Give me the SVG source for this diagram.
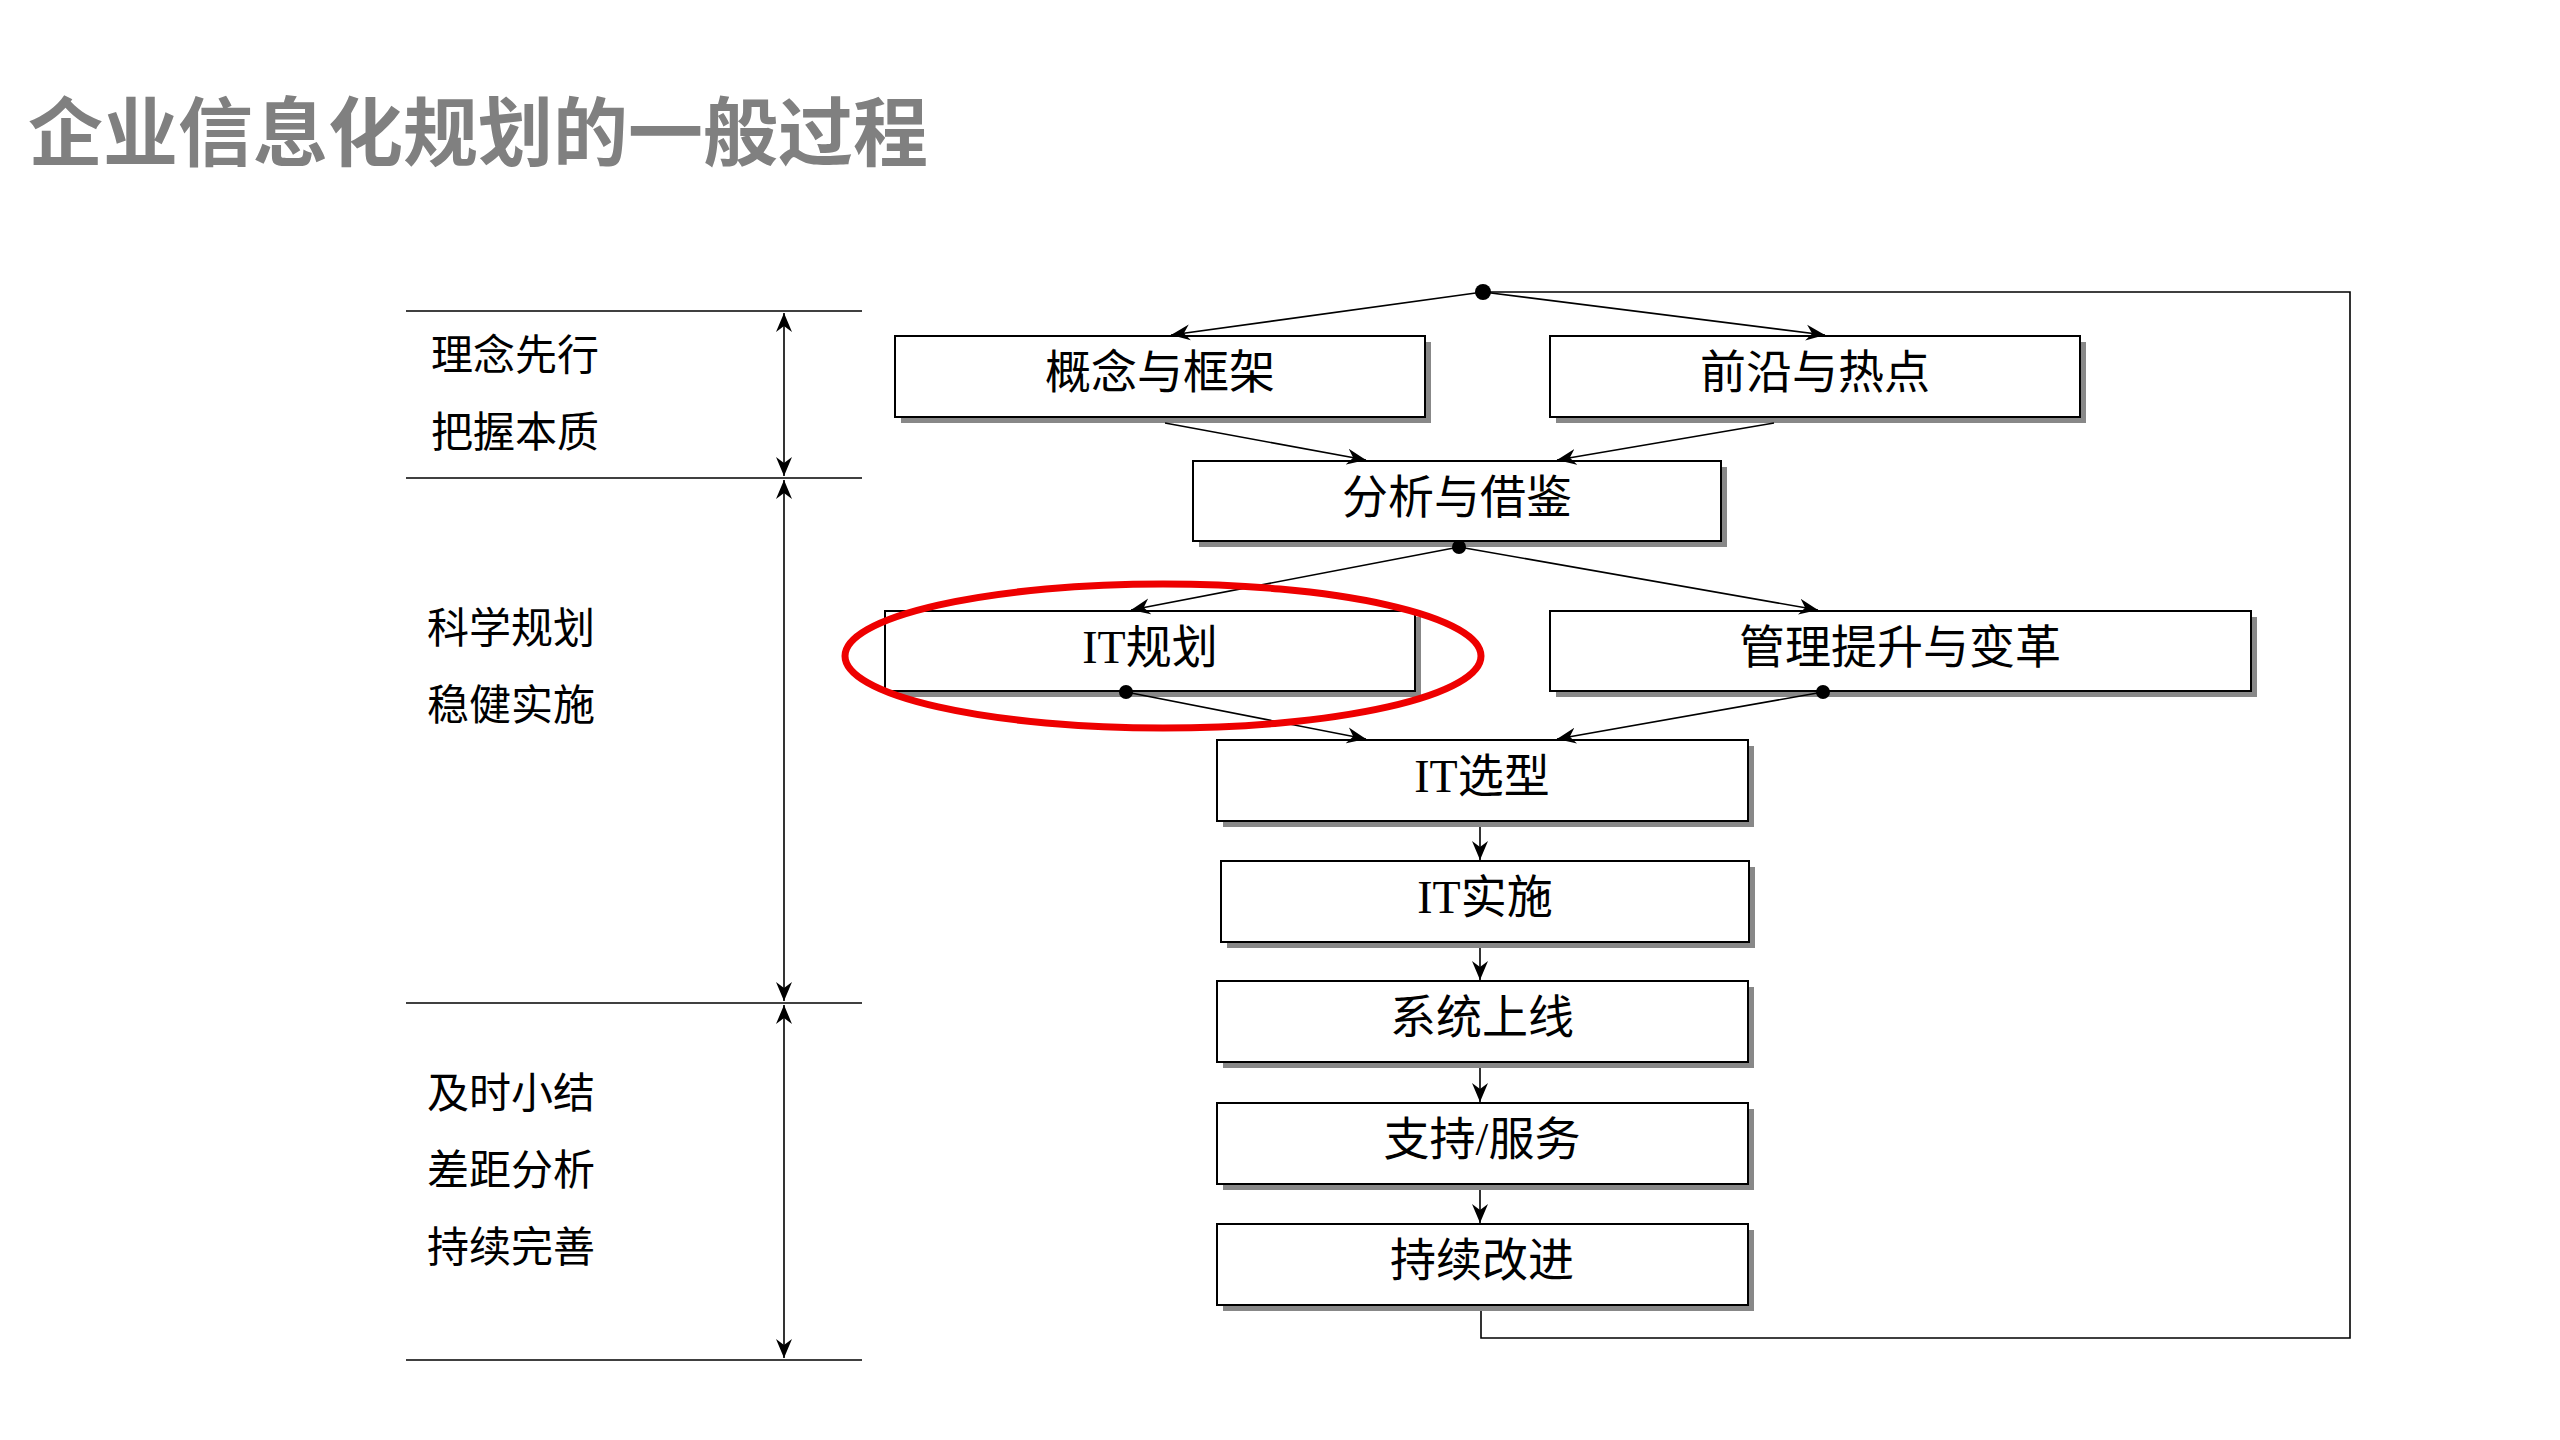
<svg xmlns="http://www.w3.org/2000/svg" width="2560" height="1440" viewBox="0 0 2560 1440">
<style>
.bx{fill:#fff;stroke:#000;stroke-width:2}
.sh{fill:#888}
.nt{font-family:"Liberation Serif","Noto Sans CJK SC",serif;font-size:46px;text-anchor:middle;fill:#000}
.lt{font-family:"Liberation Sans","Noto Sans CJK SC",sans-serif;font-size:42px;fill:#000}
.ln{stroke:#000;stroke-width:1.6;fill:none}
</style>
<defs>
<marker id="ar" viewBox="0 0 20 20" refX="19" refY="10" markerWidth="20" markerHeight="20" markerUnits="userSpaceOnUse" orient="auto-start-reverse">
<path d="M0,2 L19,10 L0,18 L6,10 Z" fill="#000"/>
</marker>
</defs>
<rect width="2560" height="1440" fill="#fff"/>
<text x="28" y="160" font-family="'Noto Sans CJK SC',sans-serif" font-weight="bold" font-size="75" fill="#808080">企业信息化规划的一般过程</text>

<g id="left">
<line class="ln" x1="406" y1="311" x2="862" y2="311"/>
<line class="ln" x1="406" y1="478" x2="862" y2="478"/>
<line class="ln" x1="406" y1="1003" x2="862" y2="1003"/>
<line class="ln" x1="406" y1="1360" x2="862" y2="1360"/>
<line class="ln" x1="784" y1="313" x2="784" y2="476" marker-start="url(#ar)" marker-end="url(#ar)"/>
<line class="ln" x1="784" y1="480" x2="784" y2="1001" marker-start="url(#ar)" marker-end="url(#ar)"/>
<line class="ln" x1="784" y1="1005" x2="784" y2="1358" marker-start="url(#ar)" marker-end="url(#ar)"/>
<text class="lt" x="431" y="370">理念先行</text>
<text class="lt" x="431" y="447">把握本质</text>
<text class="lt" x="427" y="643">科学规划</text>
<text class="lt" x="427" y="720">稳健实施</text>
<text class="lt" x="427" y="1108">及时小结</text>
<text class="lt" x="427" y="1185">差距分析</text>
<text class="lt" x="427" y="1262">持续完善</text>
</g>

<g id="n1"><rect class="sh" x="901" y="342" width="530" height="81"/><rect class="bx" x="895" y="336" width="530" height="81"/><text class="nt" x="1160" y="388">概念与框架</text></g>
<g id="n2"><rect class="sh" x="1556" y="342" width="530" height="81"/><rect class="bx" x="1550" y="336" width="530" height="81"/><text class="nt" x="1815" y="388">前沿与热点</text></g>
<g id="n3"><rect class="sh" x="1199" y="467" width="528" height="80"/><rect class="bx" x="1193" y="461" width="528" height="80"/><text class="nt" x="1457" y="513">分析与借鉴</text></g>
<g id="n4"><rect class="sh" x="891" y="617" width="530" height="80"/><rect class="bx" x="885" y="611" width="530" height="80"/><text class="nt" x="1150" y="663">IT规划</text></g>
<g id="n5"><rect class="sh" x="1556" y="617" width="701" height="80"/><rect class="bx" x="1550" y="611" width="701" height="80"/><text class="nt" x="1900" y="663">管理提升与变革</text></g>
<g id="n6"><rect class="sh" x="1223" y="746" width="531" height="81"/><rect class="bx" x="1217" y="740" width="531" height="81"/><text class="nt" x="1482" y="792">IT选型</text></g>
<g id="n7"><rect class="sh" x="1227" y="867" width="528" height="81"/><rect class="bx" x="1221" y="861" width="528" height="81"/><text class="nt" x="1485" y="913">IT实施</text></g>
<g id="n8"><rect class="sh" x="1223" y="987" width="531" height="81"/><rect class="bx" x="1217" y="981" width="531" height="81"/><text class="nt" x="1482" y="1033">系统上线</text></g>
<g id="n9"><rect class="sh" x="1223" y="1109" width="531" height="81"/><rect class="bx" x="1217" y="1103" width="531" height="81"/><text class="nt" x="1482" y="1155">支持/服务</text></g>
<g id="n10"><rect class="sh" x="1223" y="1230" width="531" height="81"/><rect class="bx" x="1217" y="1224" width="531" height="81"/><text class="nt" x="1482" y="1276">持续改进</text></g>

<g id="connectors">
<circle cx="1483" cy="292" r="8" fill="#000"/>
<line class="ln" x1="1483" y1="292" x2="1171" y2="335" marker-end="url(#ar)"/>
<line class="ln" x1="1483" y1="292" x2="1825" y2="335" marker-end="url(#ar)"/>
<line class="ln" x1="1165" y1="423" x2="1366" y2="460" marker-end="url(#ar)"/>
<line class="ln" x1="1774" y1="423" x2="1557" y2="460" marker-end="url(#ar)"/>
<circle cx="1459" cy="547" r="7" fill="#000"/>
<line class="ln" x1="1459" y1="547" x2="1131" y2="610" marker-end="url(#ar)"/>
<line class="ln" x1="1459" y1="547" x2="1818" y2="610" marker-end="url(#ar)"/>
<circle cx="1126" cy="692" r="7" fill="#000"/>
<circle cx="1823" cy="692" r="7" fill="#000"/>
<line class="ln" x1="1126" y1="692" x2="1366" y2="739" marker-end="url(#ar)"/>
<line class="ln" x1="1823" y1="692" x2="1557" y2="739" marker-end="url(#ar)"/>
<line class="ln" x1="1480" y1="827" x2="1480" y2="860" marker-end="url(#ar)"/>
<line class="ln" x1="1480" y1="948" x2="1480" y2="980" marker-end="url(#ar)"/>
<line class="ln" x1="1480" y1="1068" x2="1480" y2="1102" marker-end="url(#ar)"/>
<line class="ln" x1="1480" y1="1190" x2="1480" y2="1223" marker-end="url(#ar)"/>
<polyline class="ln" stroke-width="1.2" points="1481,1311 1481,1338 2350,1338 2350,292 1483,292"/>
</g>
<ellipse id="highlight" cx="1163" cy="656" rx="318" ry="72" fill="none" stroke="#e00" stroke-width="7"/>
</svg>
